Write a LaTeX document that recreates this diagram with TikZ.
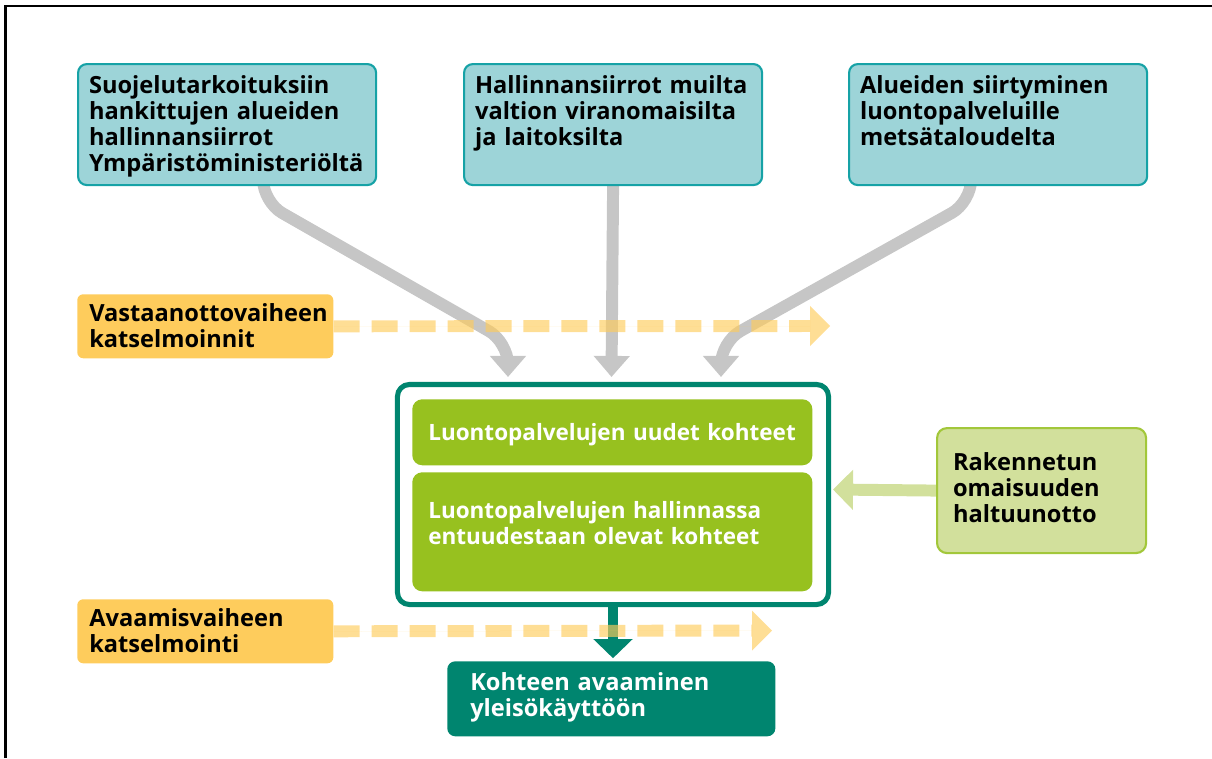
\documentclass[tikz,border=0pt]{standalone}
\usepackage{fontspec}
\setmainfont{Open Sans}
\usetikzlibrary{arrows.meta,backgrounds}

\definecolor{tealfill}{HTML}{9DD4D8}
\definecolor{tealline}{HTML}{16A2A6}
\definecolor{phasefill}{HTML}{FECC5C}
\definecolor{limefill}{HTML}{D2E09C}
\definecolor{limeline}{HTML}{A2C73A}
\definecolor{greenfill}{HTML}{97C11F}
\definecolor{darkteal}{HTML}{00856F}
\definecolor{arrowgray}{HTML}{C6C6C6}

\begin{document}
\begin{tikzpicture}[x=0.025cm,y=-0.025cm,
  font=\fontsize{16.8}{18.5}\selectfont\bfseries,
  srcbox/.style={draw=tealline, fill=tealfill, line width=1.5pt, rounded corners=0.22cm,
    anchor=north west, align=left, inner xsep=0.275cm, inner ysep=0pt,
    text width=6.9cm, text height=0.725cm, text depth=2.3cm},
  phasebox/.style={fill=phasefill, rounded corners=0.15cm, anchor=north west, align=left,
    inner xsep=0.3cm, inner ysep=0pt, text width=5.8cm, text height=0.675cm, text depth=0.925cm},
  sitebox/.style={fill=greenfill, text=white, rounded corners=0.25cm, anchor=north west,
    align=left, inner xsep=0.4cm, inner ysep=0pt, text width=9.2cm,
    font=\fontsize{16}{18.5}\selectfont\bfseries},
  graypipe/.style={draw=arrowgray, line width=8.5pt, rounded corners=0.55cm,
    -{Triangle[width=24.9pt,length=15pt]}},
  phasepipe/.style={draw=phasefill, fill=phasefill, opacity=0.65, line width=8.5pt,
    dash pattern=on 18.5pt off 8.5pt, -{Triangle[width=28.5pt,length=14.2pt,line width=0pt]}}]

\useasboundingbox (0,0) rectangle (1212,758);
\draw[line width=2.1pt] (5.5,758) -- (5.5,6) -- (1212,6);

% lahteet
\node[srcbox] (src1) at (77,63) {Suojelutarkoituksiin\\hankittujen alueiden\\hallinnansiirrot\\Ympäristöministeriöltä};
\node[srcbox] (src2) at (463,63) {Hallinnansiirrot muilta\\valtion viranomaisilta\\ja laitoksilta};
\node[srcbox] (src3) at (848,63) {Alueiden siirtyminen\\luontopalveluille\\metsätaloudelta};

% katselmoinnit
\node[phasebox] (vast) at (77,294) {Vastaanottovaiheen\\katselmoinnit};
\node[phasebox] (avaa) at (77,599) {Avaamisvaiheen\\katselmointi};

% kohteet
\node[draw=darkteal, fill=white, line width=3.6pt, rounded corners=0.3cm, inner sep=0pt,
  minimum width=10.775cm, minimum height=5.5cm] (cont) at (613,494.5) {};
\node[sitebox, text height=1.025cm, text depth=0.625cm] (uudet) at (412,399) {Luontopalvelujen uudet kohteet};
\node[sitebox, text height=1.15cm, text depth=1.825cm] (vanhat) at (412,472) {Luontopalvelujen hallinnassa\\entuudestaan olevat kohteet};

\node[draw=limeline, fill=limefill, line width=1.5pt, rounded corners=0.25cm, anchor=north west,
  align=left, inner xsep=0.4cm, inner ysep=0pt, text width=4.425cm,
  text height=1.05cm, text depth=2.075cm] (rak) at (936,427) {Rakennetun\\omaisuuden\\haltuunotto};

\node[fill=darkteal, text=white, rounded corners=0.2cm, anchor=north west, align=left,
  inner xsep=0.575cm, inner ysep=0pt, text width=7.05cm,
  text height=0.725cm, text depth=1.15cm] (kohde) at (447,661) {Kohteen avaaminen\\yleisökäyttöön};

\coordinate (in1) at (508,377);
\coordinate (in2) at (611.5,377);
\coordinate (in3) at (721,377);
\coordinate (vasttip) at (830,326);
\coordinate (avaatip) at (772,630.5);
\coordinate (raktip) at (833,489.5);

\begin{scope}[on background layer]
\draw[graypipe] ([xshift=0.9cm,yshift=0.5cm]src1.south) -- ++(0,36) -- (in1 |- 0,342) -- (in1);
\draw[graypipe] (src2.south) -- (in2);
\draw[graypipe] ([xshift=-0.675cm,yshift=0.5cm]src3.south) -- ++(0,36) -- (in3 |- 0,342) -- (in3);
\draw[darkteal, line width=7.8pt, -{Triangle[width=27pt,length=13.5pt]}, shorten >=2pt]
  (cont.south) -- (cont.south |- kohde.north);
\draw[limefill, line width=8.5pt, -{Triangle[width=27.7pt,length=14.2pt]}] (rak.west) -- (raktip);
\draw[phasepipe] (vast.east) -- (vasttip);
\draw[phasepipe] (avaa.east) -- (avaatip);
\end{scope}

\end{tikzpicture}
\end{document}
